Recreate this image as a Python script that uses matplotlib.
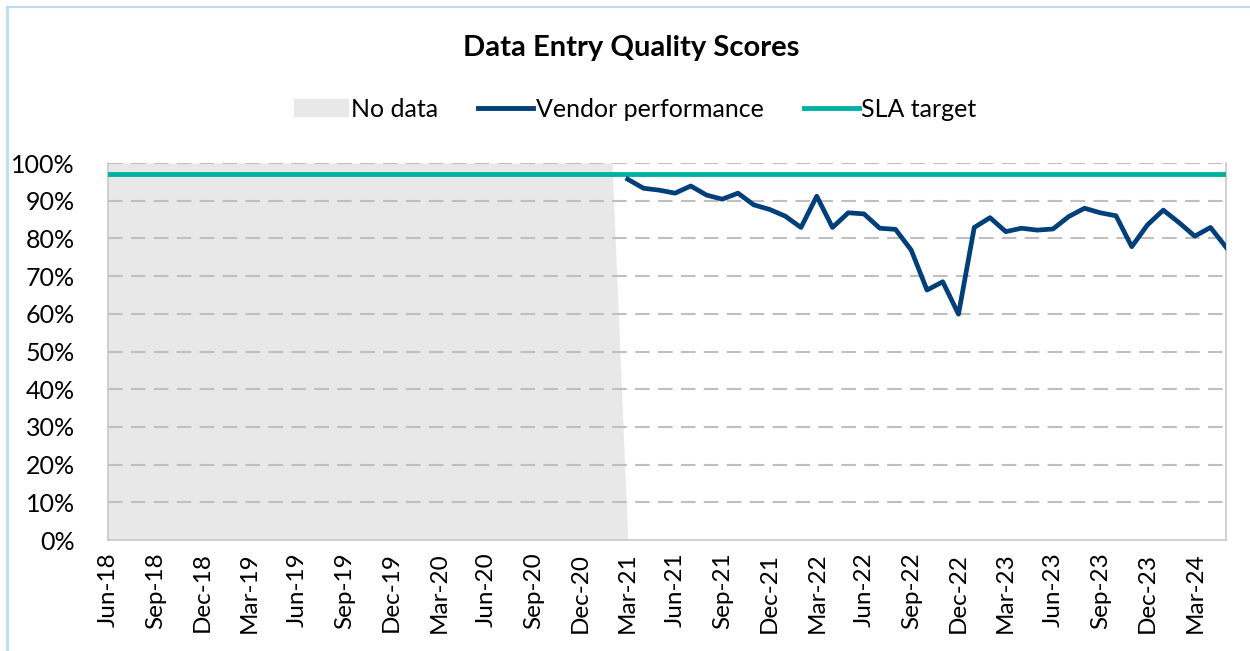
import numpy as np
import pandas as pd
import matplotlib
matplotlib.use('Agg')
import matplotlib.pyplot as plt
from matplotlib.patches import Patch
from matplotlib.lines import Line2D

plt.rcParams['font.family'] = ['Lato', 'DejaVu Sans']

# monthly categories Jun-18 .. May-24
months = pd.date_range('2018-06-01', '2024-05-01', freq='MS')
month_labels = [m.strftime('%b-%y') for m in months]

# grey "no data" block: full height until Feb-21, drops to zero at Mar-21
no_data = [1.0] * 33 + [0.0]

# vendor scores from Mar-21 onwards
vendor = [95.7, 93.3, 92.8, 92.0, 93.9, 91.5, 90.4, 92.0, 88.9, 87.7,
          85.9, 82.9, 91.2, 82.9, 86.8, 86.5, 82.7, 82.4, 76.9, 66.3,
          68.5, 59.9, 82.9, 85.5, 81.8, 82.7, 82.2, 82.5, 85.8, 88.0,
          86.8, 86.0, 77.8, 83.6, 87.5, 84.2, 80.6, 82.9, 77.6]
vendor_start = 33

sla_target = 0.97

x = np.arange(len(months))
x_nd = np.arange(len(no_data))
x_v = np.arange(vendor_start, vendor_start + len(vendor))

fig = plt.figure(figsize=(12.5, 6.51), dpi=100)
ax = fig.add_axes([0.0864, 0.1705, 0.8946, 0.5791])

grey = '#E8E8E8'
navy = '#003F7A'
teal = '#00B0A3'

ax.fill_between(x_nd, 0, no_data, color=grey, lw=0, zorder=1)
ax.plot(x_v, np.array(vendor) / 100, color=navy, lw=3.4, zorder=4,
        solid_joinstyle='round')
ax.plot(x, [sla_target] * len(x), color=teal, lw=3.5, zorder=3)

ax.set_xlim(0, len(months) - 1)
ax.set_ylim(0, 1.0)

yt = np.arange(0, 1.01, 0.1)
ax.set_yticks(yt)
ax.set_yticklabels(['%d%%' % round(v * 100) for v in yt], fontsize=18)
ax.set_xticks(x[::3])
ax.set_xticklabels(month_labels[::3], rotation=90, fontsize=17.5)
ax.tick_params(axis='y', length=0, pad=24)
ax.tick_params(axis='x', length=0, pad=9)

for v in yt[1:]:
    ax.axhline(v, color='#BFBFBF', lw=1.5, ls=(0, (7, 4)), zorder=2)

for s in ['left', 'bottom', 'right']:
    ax.spines[s].set_color('#C8C8C8')
    ax.spines[s].set_linewidth(1.2)
ax.spines['top'].set_visible(False)

fig.text(0.505, 0.927, 'Data Entry Quality Scores', ha='center', va='center',
         fontsize=21, fontweight='bold')

handles = [Patch(facecolor=grey, edgecolor='none'),
           Line2D([], [], color=navy, lw=3.5),
           Line2D([], [], color=teal, lw=3.5)]
fig.legend(handles, ['No data', 'Vendor performance', 'SLA target'],
           loc='center', bbox_to_anchor=(0.508, 0.832), ncol=3, frameon=False,
           fontsize=18, handlelength=2.2, handletextpad=0.1, columnspacing=1.6)

# light blue chart frame (left and top edges)
fig.add_artist(Line2D([0.0056, 0.0056], [0, 0.989], color='#BDDDF7', lw=2))
fig.add_artist(Line2D([0.0056, 1.0], [0.989, 0.989], color='#BDDDF7', lw=1.5))

fig.savefig('out.png', dpi=100)
